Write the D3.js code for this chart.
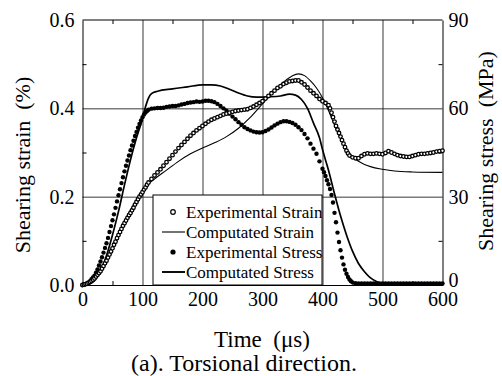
<!DOCTYPE html>
<html>
<head>
<meta charset="utf-8">
<script src="https://cdn.jsdelivr.net/npm/d3@7"></script>
<style>
	body { margin: 0; background: #fff; }
	.axis path, .axis line { stroke: #000; }
	.grid line { stroke: #222; stroke-width: 0.9; }
	.grid path { display: none; }
</style>
</head>
<body>
<div id="chart"></div>
<script>
const SERIF = 'Liberation Serif';

// time axis (us) ticks and value ticks
const timeTicks = [0, 100, 200, 300, 400, 500, 600];
const strainTicks = [0.0, 0.2, 0.4, 0.6];
const stressTicks = [0, 30, 60, 90];

const legendLabels = ['Experimental Strain', 'Computated Strain', 'Experimental Stress', 'Computated Stress'];

// [time us, shearing strain %]
const expStrain = [
	[0, 0.000], [2.5, 0.001], [5, 0.002], [7.5, 0.003], [10, 0.005], [12.5, 0.007], [15, 0.009], [17.5, 0.012],
	[20, 0.015], [22.5, 0.019], [25, 0.023], [27.5, 0.027], [30, 0.031], [32.5, 0.037], [35, 0.043], [37.5, 0.049],
	[40, 0.055], [42.5, 0.062], [45, 0.069], [47.5, 0.076], [50, 0.083], [52.5, 0.091], [55, 0.098], [57.5, 0.106],
	[60, 0.113], [62.5, 0.120], [65, 0.127], [67.5, 0.134], [70, 0.140], [72.5, 0.146], [75, 0.152], [77.5, 0.158],
	[80, 0.163], [82.5, 0.169], [85, 0.175], [87.5, 0.182], [90, 0.188], [92.5, 0.194], [95, 0.200], [97.5, 0.205],
	[100, 0.210], [102.5, 0.216], [105, 0.221], [107.5, 0.227], [110, 0.232], [115, 0.240], [120, 0.248], [125, 0.255],
	[130, 0.262], [135, 0.270], [140, 0.278], [145, 0.286], [150, 0.294], [155, 0.302], [160, 0.310], [165, 0.317],
	[170, 0.324], [175, 0.331], [180, 0.338], [185, 0.344], [190, 0.350], [195, 0.355], [200, 0.360], [205, 0.365],
	[210, 0.370], [215, 0.374], [220, 0.377], [225, 0.380], [230, 0.383], [235, 0.386], [240, 0.388], [245, 0.390],
	[250, 0.392], [255, 0.394], [260, 0.395], [265, 0.396], [270, 0.397], [275, 0.398], [280, 0.401], [285, 0.404],
	[290, 0.408], [295, 0.412], [300, 0.416], [305, 0.422], [310, 0.428], [315, 0.434], [320, 0.440], [325, 0.446],
	[330, 0.450], [335, 0.455], [340, 0.458], [345, 0.461], [350, 0.462], [355, 0.463], [360, 0.463], [365, 0.459],
	[370, 0.454], [375, 0.447], [380, 0.440], [385, 0.434], [390, 0.428], [395, 0.421], [400, 0.416], [405, 0.412],
	[410, 0.407], [412.5, 0.400], [415, 0.390], [417.5, 0.380], [420, 0.370], [422.5, 0.360], [425, 0.352], [427.5, 0.344],
	[430, 0.336], [432.5, 0.328], [435, 0.320], [437.5, 0.312], [440, 0.304], [442.5, 0.298], [445, 0.293], [450, 0.289],
	[455, 0.287], [460, 0.287], [465, 0.292], [470, 0.296], [475, 0.298], [480, 0.297], [485, 0.297], [490, 0.298],
	[495, 0.297], [500, 0.296], [505, 0.299], [510, 0.303], [515, 0.300], [520, 0.297], [525, 0.294], [530, 0.292],
	[535, 0.291], [540, 0.290], [545, 0.290], [550, 0.292], [555, 0.294], [560, 0.296], [565, 0.297], [570, 0.297],
	[575, 0.298], [580, 0.299], [585, 0.300], [590, 0.302], [595, 0.303], [600, 0.304]
];

const compStrain = [
	[0, 0], [10, 0.004], [20, 0.015], [30, 0.033], [40, 0.058], [50, 0.088], [60, 0.118], [70, 0.145], [80, 0.170],
	[90, 0.193], [100, 0.213], [110, 0.229], [120, 0.240], [140, 0.260], [160, 0.280], [180, 0.297], [200, 0.310],
	[220, 0.322], [240, 0.336], [260, 0.355], [280, 0.380], [300, 0.410], [320, 0.440], [340, 0.465], [350, 0.474],
	[360, 0.478], [370, 0.474], [380, 0.462], [390, 0.446], [400, 0.424], [410, 0.395], [420, 0.362], [430, 0.332],
	[440, 0.308], [450, 0.290], [460, 0.280], [470, 0.273], [480, 0.268], [500, 0.262], [520, 0.258], [550, 0.256],
	[600, 0.255]
];

// [time us, shearing stress MPa]
const expStress = [
	[0, 0], [2.5, 0.1], [5, 0.3], [7.5, 0.5], [10, 0.8], [12.5, 1.3], [15, 2.0], [17.5, 2.6], [20, 3.2], [22.5, 4.2],
	[25, 5.3], [27.5, 6.6], [30, 8.0], [32.5, 9.4], [35, 11.0], [37.5, 12.6], [40, 14.2], [42.5, 16.0], [45, 18.0],
	[47.5, 20.0], [50, 22.0], [52.5, 24.0], [55, 26.2], [57.5, 28.4], [60, 30.5], [62.5, 32.5], [65, 34.6], [67.5, 36.6],
	[70, 38.6], [72.5, 40.5], [75, 42.3], [77.5, 44.0], [80, 45.8], [82.5, 47.4], [85, 49.0], [87.5, 50.6], [90, 52.0],
	[92.5, 53.4], [95, 54.7], [97.5, 55.9], [100, 57.0], [102.5, 57.9], [105, 58.6], [107.5, 59.1], [110, 59.5],
	[115, 59.9], [120, 60.0], [125, 60.1], [130, 60.1], [135, 60.2], [140, 60.5], [145, 60.6], [150, 60.8], [155, 60.8],
	[160, 61.0], [165, 61.3], [170, 61.5], [175, 61.8], [180, 62.0], [185, 62.1], [190, 62.3], [195, 62.2], [200, 62.3],
	[205, 62.6], [210, 62.6], [215, 62.4], [220, 62.1], [225, 61.5], [230, 60.8], [235, 60.0], [240, 59.2], [245, 58.2],
	[250, 57.2], [255, 56.3], [260, 55.3], [265, 54.4], [270, 53.6], [275, 53.0], [280, 52.5], [285, 52.1], [290, 51.9],
	[295, 51.8], [300, 51.9], [305, 52.3], [310, 52.8], [315, 53.5], [320, 54.2], [325, 54.8], [330, 55.3], [335, 55.6],
	[340, 55.6], [345, 55.4], [350, 55.0], [355, 54.4], [360, 53.6], [365, 52.6], [370, 51.3], [375, 49.8], [380, 48.0],
	[385, 46.3], [390, 44.6], [395, 42.0], [400, 39.5], [402.5, 38.3], [405, 37.0], [407.5, 35.6], [410, 34.2],
	[412.5, 32.6], [415, 30.6], [417.5, 28.0], [420, 24.5], [422.5, 21.3], [425, 17.8], [427.5, 14.6], [430, 11.8],
	[432.5, 9.3], [435, 7.0], [437.5, 5.2], [440, 3.8], [442.5, 2.7], [445, 1.9], [447.5, 1.3], [450, 0.9], [455, 0.6],
	[460, 0.5], [465, 0.5], [470, 0.5], [475, 0.5], [480, 0.5], [485, 0.5], [490, 0.5], [495, 0.5], [500, 0.5],
	[505, 0.5], [510, 0.5], [515, 0.5], [520, 0.5], [525, 0.5], [530, 0.5], [535, 0.5], [540, 0.5], [545, 0.5],
	[550, 0.5], [555, 0.5], [560, 0.5], [565, 0.5], [570, 0.5], [575, 0.5], [580, 0.5], [585, 0.5], [590, 0.5],
	[595, 0.5], [600, 0.5]
];

const compStress = [
	[0, 0], [10, 0.3], [20, 1.5], [30, 4.5], [40, 10], [50, 17], [60, 25], [70, 34], [80, 42.5], [90, 50], [100, 56.5],
	[105, 60.5], [110, 63.5], [115, 65], [125, 65.8], [150, 66.6], [175, 67.3], [200, 68], [215, 68], [230, 67.6],
	[245, 66.5], [260, 65.2], [275, 64.2], [290, 63.8], [310, 63.9], [330, 64.2], [345, 64.8], [355, 64.5], [365, 63],
	[375, 60], [385, 55], [395, 50], [400, 46], [410, 39], [420, 31], [430, 23.5], [440, 17], [450, 11.5], [460, 7.3],
	[470, 4.5], [480, 2.4], [490, 1.2], [500, 0.5], [520, 0.3], [600, 0.3]
];

const config = {
	containerWidth: 502,
	containerHeight: 376,
	margin: { top: 20, right: 59.5, bottom: 91, left: 82.5 },
};

const width = config.containerWidth - config.margin.left - config.margin.right;
const height = config.containerHeight - config.margin.top - config.margin.bottom;

const svg = d3.select('#chart').append('svg')
	.attr('width', config.containerWidth)
	.attr('height', config.containerHeight)
	.attr('font-family', SERIF);

const chart = svg.append('g')
	.attr('transform', `translate(${config.margin.left}, ${config.margin.top})`);

// scales (left = strain, right = stress, same vertical extent)
const xScale = d3.scaleLinear().domain([0, 600]).range([0, width]);
const yStrain = d3.scaleLinear().domain([0, 0.6]).range([height, 0]);
const yStress = d3.scaleLinear().domain([0, 90]).range([height, 0]);

// grid lines
chart.append('g').attr('class', 'grid')
	.attr('transform', `translate(0, ${height})`)
	.call(d3.axisBottom(xScale).tickValues([100, 200, 300, 400, 500]).tickSize(-height).tickFormat(''));
chart.append('g').attr('class', 'grid')
	.call(d3.axisLeft(yStrain).tickValues([0.2, 0.4]).tickSize(-width).tickFormat(''));

// minor inward ticks on all four sides
const minorX = d3.range(50, 600, 100);
chart.append('g').attr('class', 'axis')
	.attr('transform', `translate(0, ${height})`)
	.call(d3.axisBottom(xScale).tickValues(minorX).tickSize(-4).tickFormat(''))
	.call(g => g.select('.domain').remove());
chart.append('g').attr('class', 'axis')
	.call(d3.axisTop(xScale).tickValues(minorX).tickSize(-4).tickFormat(''))
	.call(g => g.select('.domain').remove());
chart.append('g').attr('class', 'axis')
	.call(d3.axisLeft(yStrain).tickValues([0.1, 0.3, 0.5]).tickSize(-4).tickFormat(''))
	.call(g => g.select('.domain').remove());
chart.append('g').attr('class', 'axis')
	.attr('transform', `translate(${width}, 0)`)
	.call(d3.axisRight(yStress).tickValues([15, 45, 75]).tickSize(-4).tickFormat(''))
	.call(g => g.select('.domain').remove());

// main axes with labels
const xAxisG = chart.append('g').attr('class', 'axis')
	.attr('transform', `translate(0, ${height})`)
	.call(d3.axisBottom(xScale).tickValues(timeTicks).tickSize(0).tickPadding(7).tickFormat(d3.format('d')));
const yAxisG = chart.append('g').attr('class', 'axis')
	.call(d3.axisLeft(yStrain).tickValues(strainTicks).tickSize(0).tickPadding(8).tickFormat(d3.format('.1f')));
const y2AxisG = chart.append('g').attr('class', 'axis')
	.attr('transform', `translate(${width}, 0)`)
	.call(d3.axisRight(yStress).tickValues(stressTicks).tickSize(0).tickPadding(6).tickFormat(d3.format('d')));
chart.append('line').attr('x1', 0).attr('x2', width).attr('y1', 0).attr('y2', 0).attr('stroke', '#000');

[xAxisG, yAxisG, y2AxisG].forEach(g => {
	g.attr('font-family', null).attr('font-size', null);
	g.selectAll('text').style('font-family', SERIF).style('font-size', '20px');
});
xAxisG.selectAll('text').attr('dy', '0.71em');
// keep the right "0" clear of the "600" below it
y2AxisG.selectAll('text').filter(d => d === 0).attr('dy', '0.05em');

// lines
const strainLine = d3.line().x(d => xScale(d[0])).y(d => yStrain(d[1]));
const stressLine = d3.line().x(d => xScale(d[0])).y(d => yStress(d[1]));

const marks = chart.append('g');

marks.append('path')
	.datum(compStrain)
	.attr('fill', 'none')
	.attr('stroke', '#000')
	.attr('stroke-width', 1.1)
	.attr('d', strainLine.curve(d3.curveMonotoneX));

marks.append('path')
	.datum(compStress)
	.attr('fill', 'none')
	.attr('stroke', '#000')
	.attr('stroke-width', 1.7)
	.attr('d', stressLine.curve(d3.curveMonotoneX));

marks.selectAll('.exp-stress')
	.data(expStress)
	.join('circle')
	.attr('class', 'exp-stress')
	.attr('cx', d => xScale(d[0]))
	.attr('cy', d => yStress(d[1]))
	.attr('r', 2.2)
	.attr('fill', '#000');

marks.selectAll('.exp-strain')
	.data(expStrain)
	.join('circle')
	.attr('class', 'exp-strain')
	.attr('cx', d => xScale(d[0]))
	.attr('cy', d => yStrain(d[1]))
	.attr('r', 1.8)
	.attr('fill', '#fff')
	.attr('stroke', '#000')
	.attr('stroke-width', 1.3);

// legend box
const legend = chart.append('g').attr('transform', `translate(${153 - config.margin.left}, ${195 - config.margin.top})`);
legend.append('rect')
	.attr('width', 169)
	.attr('height', 90)
	.attr('fill', '#fff')
	.attr('stroke', '#000')
	.attr('stroke-width', 1);

legendLabels.forEach((label, i) => {
	const y = 17 + i * 20;
	if (i === 0) {
		legend.append('circle').attr('cx', 20).attr('cy', y).attr('r', 2.3)
			.attr('fill', '#fff').attr('stroke', '#000').attr('stroke-width', 1.2);
	} else if (i === 2) {
		legend.append('circle').attr('cx', 20).attr('cy', y).attr('r', 2.6).attr('fill', '#000');
	} else {
		legend.append('line').attr('x1', 9).attr('x2', 32).attr('y1', y).attr('y2', y)
			.attr('stroke', '#000').attr('stroke-width', i === 1 ? 1.1 : 1.9);
	}
	legend.append('text')
		.attr('x', 33)
		.attr('y', y)
		.attr('dy', '0.33em')
		.style('font-family', SERIF)
		.style('font-size', '17px')
		.text(label);
});

// axis titles
const title = (x, y, size, rotate, txt) => svg.append('text')
	.attr('text-anchor', 'middle')
	.attr('transform', `translate(${x}, ${y})` + (rotate ? ' rotate(-90)' : ''))
	.style('font-family', SERIF)
	.style('font-size', size + 'px')
	.text(txt);

title(30, 165, 22, true, 'Shearing strain\u00a0\u00a0(%)');
title(493, 151, 22, true, 'Shearing stress\u00a0\u00a0(MPa)');
title(262, 347, 23, false, 'Time\u00a0\u00a0(\u03bcs)');
title(244, 371, 24, false, '(a). Torsional direction.');
</script>
</body>
</html>
